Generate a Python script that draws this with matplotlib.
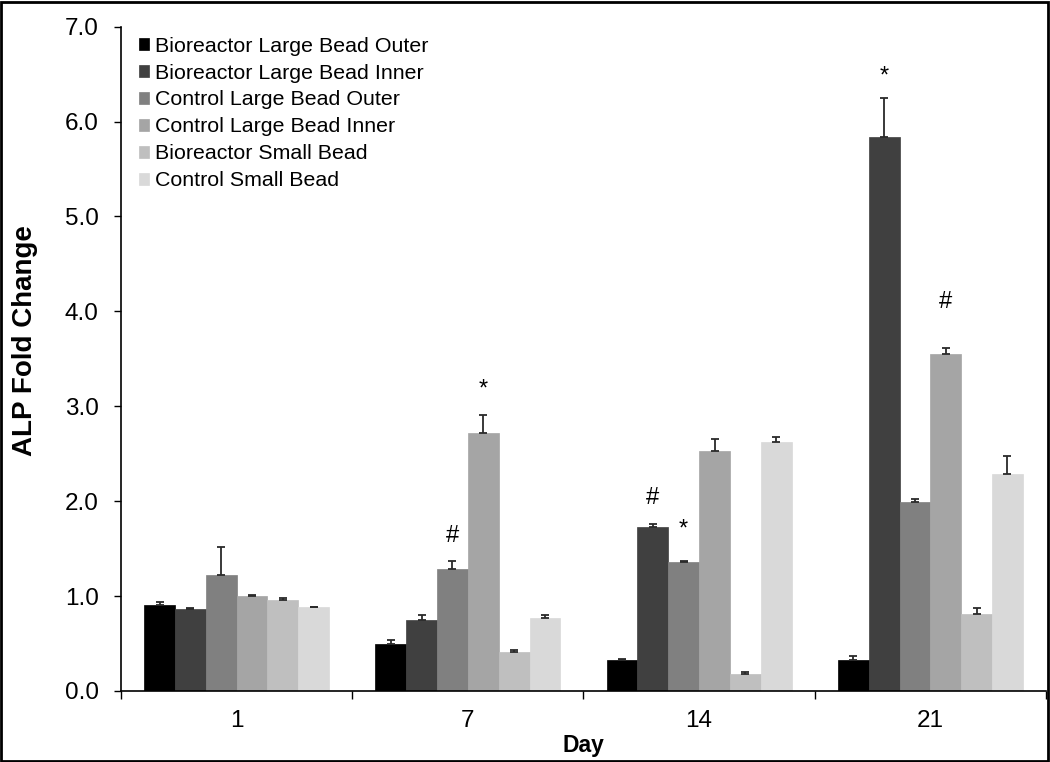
import numpy as np
import matplotlib
matplotlib.use("Agg")
import matplotlib.pyplot as plt
from matplotlib.patches import Rectangle

plt.rcParams["font.family"] = ["Liberation Sans", "DejaVu Sans"]

days = ["1", "7", "14", "21"]
series = [
    "Bioreactor Large Bead Outer",
    "Bioreactor Large Bead Inner",
    "Control Large Bead Outer",
    "Control Large Bead Inner",
    "Bioreactor Small Bead",
    "Control Small Bead",
]
colors = ["#000000", "#404040", "#808080", "#a5a5a5", "#bfbfbf", "#d9d9d9"]

# values per series, one entry per day
bio_large_outer = [0.91, 0.49, 0.33, 0.33]
bio_large_inner = [0.86, 0.75, 1.73, 5.84]
ctrl_large_outer = [1.22, 1.29, 1.36, 1.99]
ctrl_large_inner = [1.00, 2.72, 2.53, 3.55]
bio_small = [0.96, 0.41, 0.18, 0.81]
ctrl_small = [0.88, 0.77, 2.62, 2.29]

err_bio_large_outer = [0.03, 0.05, 0.01, 0.04]
err_bio_large_inner = [0.01, 0.05, 0.03, 0.41]
err_ctrl_large_outer = [0.30, 0.08, 0.01, 0.03]
err_ctrl_large_inner = [0.01, 0.19, 0.13, 0.06]
err_bio_small = [0.02, 0.02, 0.02, 0.06]
err_ctrl_small = [0.01, 0.03, 0.06, 0.19]

values = [bio_large_outer, bio_large_inner, ctrl_large_outer,
          ctrl_large_inner, bio_small, ctrl_small]
errors = [err_bio_large_outer, err_bio_large_inner, err_ctrl_large_outer,
          err_ctrl_large_inner, err_bio_small, err_ctrl_small]

# significance marks: (day index, series index, symbol, label height)
marks = [
    (1, 2, "#", 1.63),
    (1, 3, "*", 3.18),
    (2, 1, "#", 2.03),
    (2, 2, "*", 1.70),
    (3, 1, "*", 6.47),
    (3, 3, "#", 4.10),
]

fig = plt.figure(figsize=(10.5, 7.62), dpi=100)
ax = fig.add_axes([0.1152, 0.0932, 0.881, 0.8718])

n = len(series)
group_w = 0.8
bar_w = group_w / n
x = np.arange(len(days))

for i in range(n):
    pos = x - group_w / 2 + bar_w * (i + 0.5)
    ax.bar(pos, values[i], width=bar_w, color=colors[i], edgecolor=colors[i],
           linewidth=0.5, label=series[i], zorder=2)
    ax.errorbar(pos, values[i], yerr=[np.zeros(len(days)), errors[i]],
                fmt="none", ecolor="#2a2a2a", elinewidth=1.3, capsize=3,
                capthick=1.3, zorder=3)

for d, s, sym, yy in marks:
    xp = x[d] - group_w / 2 + bar_w * (s + 0.5)
    ax.text(xp, yy, sym, ha="center", va="center", fontsize=17)

ax.set_ylim(0, 7)
ax.set_xlim(-0.5, len(days) - 0.5)
ax.set_yticks(np.arange(0, 7.01, 1.0))
ax.set_yticklabels([f"{v:.1f}" for v in np.arange(0, 7.01, 1.0)], fontsize=17.5)
ax.tick_params(axis="y", direction="out", length=5, width=1, pad=11)

ax.set_xticks(np.arange(-0.5, len(days), 1.0))
ax.set_xticklabels([])
ax.tick_params(axis="x", which="major", direction="out", length=6, width=1)
ax.set_xticks(x, minor=True)
ax.set_xticklabels(days, minor=True, fontsize=17.5)
ax.tick_params(axis="x", which="minor", length=0, pad=14)

for side in ["top", "right"]:
    ax.spines[side].set_visible(False)
for side in ["left", "bottom"]:
    ax.spines[side].set_linewidth(1.2)

ax.set_ylabel("ALP Fold Change", fontsize=20, fontweight="bold")
ax.yaxis.set_label_coords(-0.104, 0.527)
ax.yaxis.label.set_verticalalignment("center")
ax.set_xlabel("Day", fontsize=16.5, fontweight="bold")
ax.xaxis.set_label_coords(0.5, -0.0823)
ax.xaxis.label.set_verticalalignment("center")

ax.legend(loc="upper left", bbox_to_anchor=(0.019, 0.985), frameon=False,
          fontsize=15.4, handlelength=0.5, handleheight=0.5, handletextpad=0.25,
          labelspacing=0.37, borderaxespad=0, borderpad=0)

fig.patches.append(Rectangle((0.001, 0.001), 0.997, 0.997,
                             transform=fig.transFigure, fill=False,
                             edgecolor="black", linewidth=2))

fig.savefig("out.png", dpi=100)
